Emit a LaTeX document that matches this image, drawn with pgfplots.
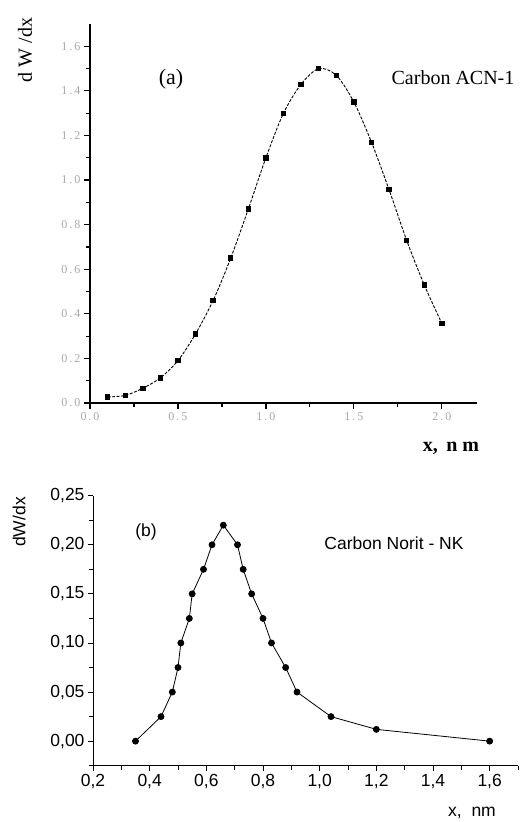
\documentclass[border=0pt]{standalone}
\usepackage{fontspec}
\setmainfont{Liberation Serif}
\newfontfamily\arial{Liberation Sans}
\usepackage{pgfplots}
\pgfplotsset{compat=1.18}
\definecolor{TickGray}{HTML}{A8A8A8}
\begin{document}
\begin{tikzpicture}
\useasboundingbox (0pt,0pt) rectangle (529pt,822pt);
% (a) Carbon ACN-1
\begin{axis}[
  at={(90pt,419pt)}, anchor=south west,
  scale only axis, width=387pt, height=379pt,
  xmin=0, xmax=2.2, ymin=0, ymax=1.7,
  axis lines=left,
  axis line style={-, line width=1.5pt},
  xtick={0,0.5,1.0,1.5,2.0},
  xticklabels={0\,.\,0,0\,.\,5,1\,.\,0,1\,.\,5,2\,.\,0},
  minor xtick={0.25,0.75,1.25,1.75},
  ytick={0,0.2,0.4,0.6,0.8,1.0,1.2,1.4,1.6},
  yticklabels={0\,.\,0,0\,.\,2,0\,.\,4,0\,.\,6,0\,.\,8,1\,.\,0,1\,.\,2,1\,.\,4,1\,.\,6},
  minor ytick={0.1,0.3,0.5,0.7,0.9,1.1,1.3,1.5},
  tick align=outside,
  major tick length=6pt, minor tick length=4pt,
  tick style={black, line width=1.2pt},
  tick label style={font=\fontsize{12}{14}\selectfont, text=TickGray},
  clip=false,
]
\addplot[black, line width=0.9pt, smooth, dash pattern=on 3pt off 1.5pt,
  mark=square*, mark size=2.2pt, mark options={solid}] coordinates {
  (0.1,0.027) (0.2,0.034) (0.3,0.066) (0.4,0.113) (0.5,0.19)
  (0.6,0.31) (0.7,0.46) (0.8,0.65) (0.9,0.87) (1.0,1.10)
  (1.1,1.30) (1.2,1.43) (1.3,1.50) (1.4,1.47) (1.5,1.35)
  (1.6,1.17) (1.7,0.957) (1.8,0.73) (1.9,0.53) (2.0,0.357)
};
\end{axis}
\node[rotate=90, font=\fontsize{20}{22}\selectfont] at (25pt,772pt) {d W /dx};
\node[font=\fontsize{20}{22}\selectfont\bfseries] at (451pt,374pt) {x,\, n m};
\node[font=\fontsize{22}{24}\selectfont] at (171pt,743pt) {(a)};
\node[font=\fontsize{20}{22}\selectfont] at (453pt,744pt) {Carbon ACN-1};
% (b) Carbon Norit - NK
\begin{axis}[
  at={(93pt,56.3pt)}, anchor=south west,
  scale only axis, width=425pt, height=270pt,
  xmin=0.2, xmax=1.7, ymin=-0.025, ymax=0.25,
  axis lines=left,
  axis line style={-, line width=0.8pt},
  xtick={0.2,0.4,0.6,0.8,1.0,1.2,1.4,1.6},
  xticklabels={{0,2},{0,4},{0,6},{0,8},{1,0},{1,2},{1,4},{1,6}},
  minor xtick={0.3,0.5,0.7,0.9,1.1,1.3,1.5,1.7},
  ytick={0,0.05,0.1,0.15,0.2,0.25},
  yticklabels={{0,00},{0,05},{0,10},{0,15},{0,20},{0,25}},
  minor ytick={-0.025,0.025,0.075,0.125,0.175,0.225},
  tick align=outside,
  major tick length=5pt, minor tick length=4pt,
  tick style={black, line width=0.8pt},
  tick label style={font=\fontsize{17.5}{20}\selectfont\arial, text=black},
  clip=false,
]
\addplot[black, line width=0.8pt, mark=*, mark size=3pt] coordinates {
  (0.35,0) (0.44,0.025) (0.48,0.05) (0.50,0.075) (0.51,0.10)
  (0.54,0.125) (0.55,0.15) (0.59,0.175) (0.62,0.20) (0.66,0.22)
  (0.71,0.20) (0.73,0.175) (0.76,0.15) (0.80,0.125) (0.83,0.10)
  (0.88,0.075) (0.92,0.05) (1.04,0.025) (1.20,0.012) (1.60,0)
};
\end{axis}
\node[rotate=90, font=\fontsize{17.5}{20}\selectfont\arial] at (19pt,300pt) {dW/dx};
\node[font=\fontsize{17.5}{20}\selectfont\arial] at (472pt,9pt) {x,\ \ nm};
\node[font=\fontsize{17.5}{20}\selectfont\arial] at (146pt,290pt) {(b)};
\node[font=\fontsize{17.5}{20}\selectfont\arial] at (394pt,279pt) {Carbon Norit - NK};
\end{tikzpicture}
\end{document}
